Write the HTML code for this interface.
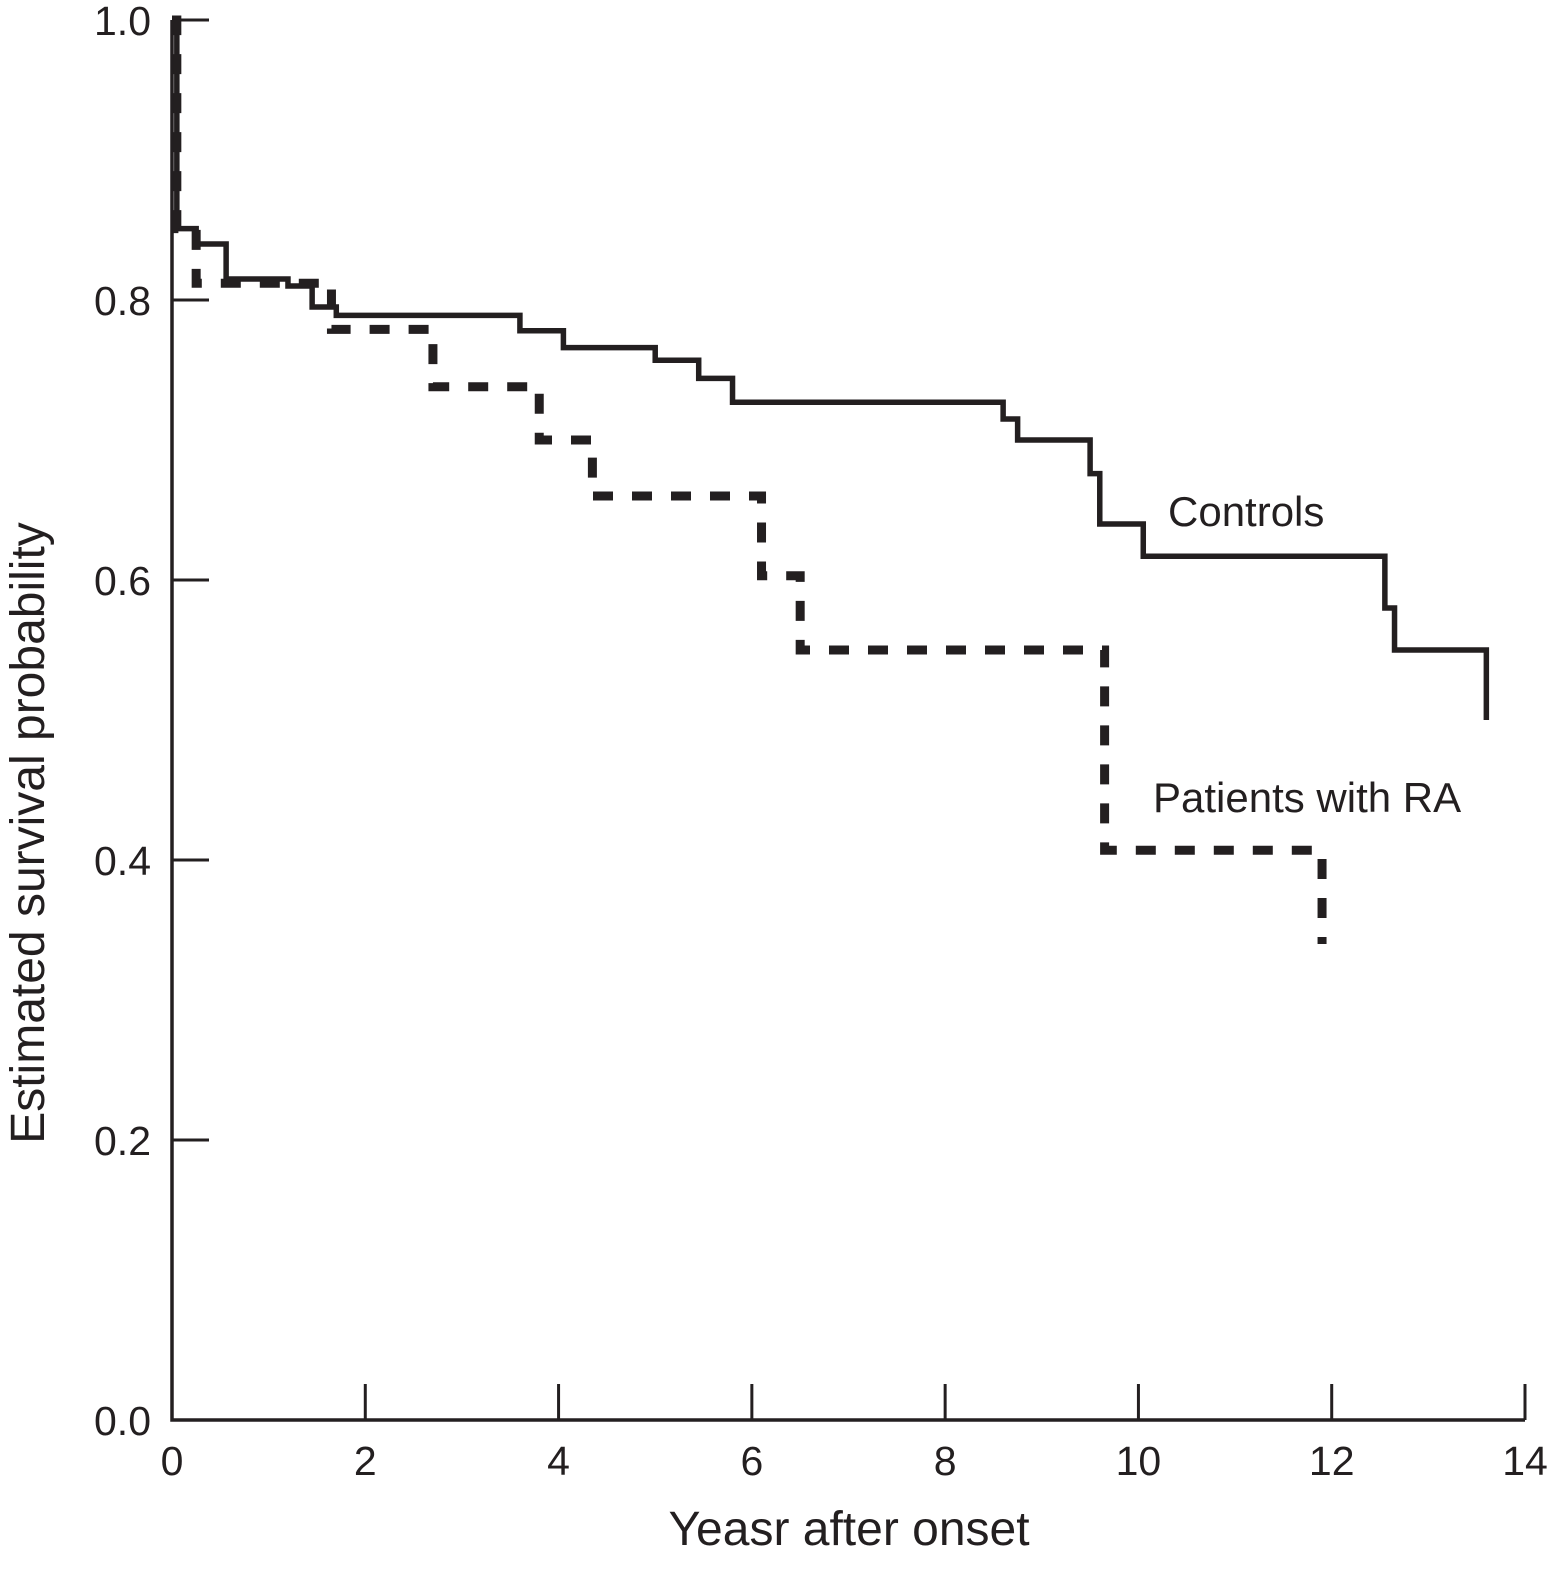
<!DOCTYPE html>
<html><head><meta charset="utf-8"><style>
html,body{margin:0;padding:0;background:#fff;}
svg{display:block;}
text{font-family:"Liberation Sans",Arial,sans-serif;fill:#231f20;}
</style></head><body>
<svg id="chart" width="1547" height="1574" viewBox="0 0 1547 1574" xmlns="http://www.w3.org/2000/svg">
<g id="axes"></g>
<g id="series"></g>
<text x="1168" y="526" font-size="42">Controls</text>
<text x="1153" y="812" font-size="42">Patients with RA</text>
<text x="849" y="1545" font-size="48" text-anchor="middle">Yeasr after onset</text>
<text transform="translate(44,833) rotate(-90)" font-size="48" text-anchor="middle">Estimated survival probability</text>
</svg>
<script>
const xTicks = [0,2,4,6,8,10,12,14];
const yTicks = [0.0,0.2,0.4,0.6,0.8,1.0];
const yTickLabels = ["0.0","0.2","0.4","0.6","0.8","1.0"];
const controlsTimes = [0,0.05,0.25,0.56,1.2,1.45,1.7,3.6,4.05,5.0,5.45,5.8,8.6,8.75,9.5,9.6,10.05,12.55,12.65,13.6];
const controlsSurv  = [1.0,0.851,0.84,0.815,0.81,0.795,0.789,0.778,0.766,0.757,0.744,0.727,0.715,0.70,0.676,0.64,0.617,0.58,0.55,0.50];
const controlsEnd = 13.6;
const raTimes = [0,0.05,0.25,1.65,2.7,3.8,4.35,6.1,6.5,9.65,11.9];
const raSurv  = [1.0,0.851,0.812,0.779,0.738,0.70,0.66,0.603,0.55,0.407,0.34];
const raEnd = 11.9;

const X0=172, X1=1525, Y0=1420, Y1=20;
const sx = t => X0 + (t/14)*(X1-X0);
const sy = s => Y0 - s*(Y0-Y1);
const NS="http://www.w3.org/2000/svg";
const axes=document.getElementById('axes');
function mk(tag,attrs,parent){const e=document.createElementNS(NS,tag);for(const k in attrs)e.setAttribute(k,attrs[k]);parent.appendChild(e);return e;}

let ax=mk('path',{d:`M${X0},${Y1} L${X0},${Y0} L${X1},${Y0}`,fill:'none',stroke:'#231f20','stroke-width':3.5},axes);


xTicks.forEach((t,i)=>{
  if(t>0){
    const l=mk('line',{x1:sx(t),x2:sx(t),y1:Y0,y2:Y0-36,stroke:'#231f20','stroke-width':3},axes);
    
    
  }
  const tx=mk('text',{x:sx(t),y:1475,'font-size':41,'text-anchor':'middle'},axes);
  tx.textContent=String(t);
  
  
});
yTicks.forEach((v,i)=>{
  if(v>0){
    const l=mk('line',{x1:X0,x2:X0+37,y1:sy(v),y2:sy(v),stroke:'#231f20','stroke-width':3},axes);
    
    
  }
  const tx=mk('text',{x:151,y:sy(v)+15,'font-size':41,'text-anchor':'end'},axes);
  tx.textContent=yTickLabels[i];
  
  
});

function stepPath(times,surv,end){
  let d=`M${sx(times[0])},${sy(surv[0])}`;
  for(let i=1;i<times.length;i++){
    d+=` L${sx(times[i])},${sy(surv[i-1])} L${sx(times[i])},${sy(surv[i])}`;
  }
  d+=` L${sx(end)},${sy(surv[surv.length-1])}`;
  return d;
}
const series=document.getElementById('series');
const pc=mk('path',{d:stepPath(controlsTimes,controlsSurv,controlsEnd),fill:'none',stroke:'#231f20','stroke-width':5.5},series);


const pr=mk('path',{d:stepPath(raTimes,raSurv,raEnd),fill:'none',stroke:'#231f20','stroke-width':9,'stroke-dasharray':'20 19'},series);


</script>
</body></html>
